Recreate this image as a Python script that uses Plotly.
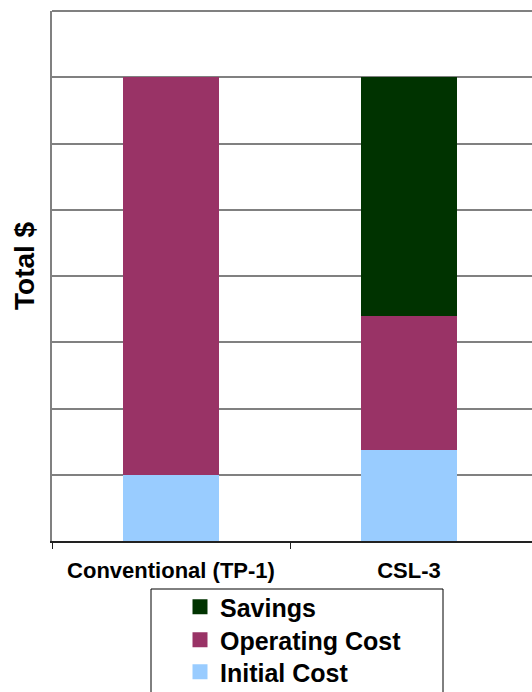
import plotly.graph_objects as go

categories = ["Conventional (TP-1)", "CSL-3"]
initial_cost = [1.0, 1.37]
operating_cost = [6.0, 2.03]
savings = [0.0, 3.6]
y_max = 8

colors = {"Initial Cost": "#99CCFF", "Operating Cost": "#993366", "Savings": "#003300"}
FONT = "Liberation Sans, Arial, sans-serif"

W, H = 532, 692
L, R, T, B = 52, 0, 11, 151
pw = W - L - R
ph = H - T - B
def px_x(x):
    return (x - L) / pw
def px_y(y):
    return (H - B - y) / ph

xpos = list(range(len(categories)))
boundaries = [i - 0.5 for i in xpos]

fig = go.Figure()
for name, vals in [("Initial Cost", initial_cost), ("Operating Cost", operating_cost), ("Savings", savings)]:
    fig.add_trace(go.Bar(x=xpos, y=vals, name=name, marker=dict(color=colors[name], line=dict(width=0)),
                         width=0.4, showlegend=False))

legend_rows = [("Savings", "legend", 607), ("Operating Cost", "legend2", 640), ("Initial Cost", "legend3", 672)]
legend_layouts = {}
for name, lg, ypx in legend_rows:
    fig.add_trace(go.Scatter(x=[None], y=[None], mode="markers", name=name, legend=lg,
                             marker=dict(symbol="square", size=15, color=colors[name])))
    legend_layouts[lg] = dict(x=px_x(180), y=px_y(ypx), xanchor="left", yanchor="middle",
                              bgcolor="rgba(0,0,0,0)", borderwidth=0,
                              font=dict(family=FONT, size=25, weight=700, color="black"))

cat_px = 238.0
fig.update_layout(
    width=W, height=H,
    margin=dict(l=L, r=R, t=T, b=B, pad=0, autoexpand=False),
    paper_bgcolor="white", plot_bgcolor="white",
    barmode="stack",
    font=dict(family=FONT, color="black"),
    xaxis=dict(range=[-0.5, -0.5 + pw / cat_px], tickmode="array", tickvals=xpos, ticktext=categories,
               showgrid=False, showline=True, linecolor="#222222", linewidth=1.5,
               ticks="", automargin=False,
               minor=dict(tickmode="array", tickvals=boundaries, ticks="outside", ticklen=6,
                          tickcolor="#222222", tickwidth=1, showgrid=False),
               tickfont=dict(family=FONT, size=22, weight=700, color="black"),
               ticklabelstandoff=9, zeroline=False, fixedrange=True),
    yaxis=dict(range=[0, y_max], dtick=1, showticklabels=False, showgrid=True,
               gridcolor="#808080", gridwidth=1.5, showline=True, linecolor="#808080",
               linewidth=2, zeroline=False, ticks="", fixedrange=True, automargin=False),
    shapes=[
        dict(type="rect", xref="paper", yref="paper", x0=px_x(151), x1=px_x(443),
             y0=px_y(589), y1=px_y(710), line=dict(color="black", width=1), fillcolor="rgba(0,0,0,0)"),
        dict(type="line", xref="paper", yref="paper", x0=0, x1=1, y0=1, y1=1,
             line=dict(color="#808080", width=2)),
    ],
    annotations=[
        dict(text="Total $", xref="paper", yref="paper", x=px_x(24), y=px_y(266),
             xanchor="center", yanchor="middle", textangle=-90, showarrow=False,
             font=dict(family=FONT, size=28, weight=700, color="black")),
    ],
    **legend_layouts,
)

fig.write_html("out.html", config={"displayModeBar": False},
               post_script="document.body.style.margin='0';document.body.style.overflow='hidden';")
